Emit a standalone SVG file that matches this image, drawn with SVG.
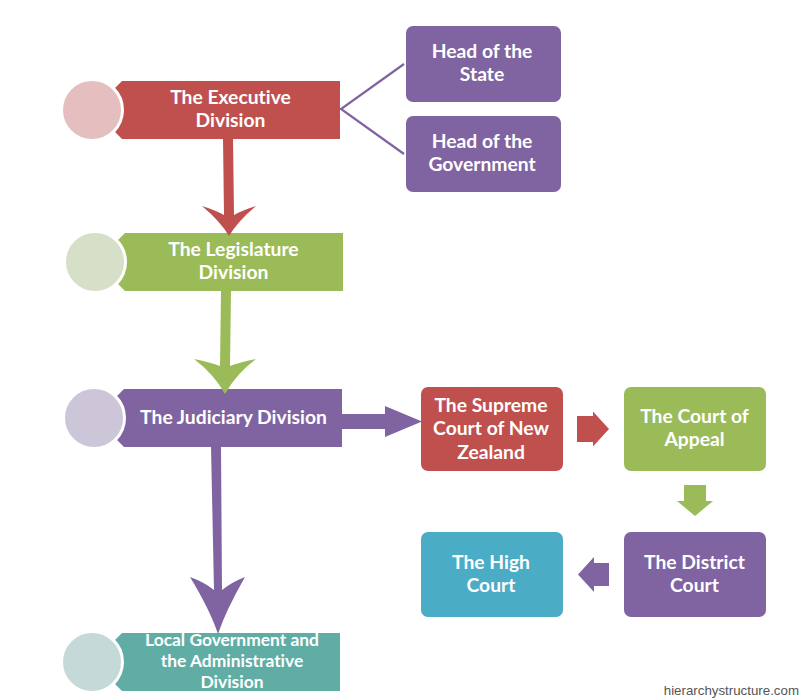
<svg xmlns="http://www.w3.org/2000/svg" width="800" height="700" viewBox="0 0 800 700">
<style>
text{font-family:Lato,"Open Sans",sans-serif;font-weight:700;font-size:19.3px;fill:#fff;text-anchor:middle;font-variant-ligatures:none}
.sm{font-size:17.4px}
.wm{font-family:"Liberation Sans",Arial,sans-serif;font-weight:400;font-size:13.3px;fill:#555;text-anchor:end}
.red{fill:#c0504d}.green{fill:#9bbb59}.purple{fill:#8064a2}.teal{fill:#5fada5}.blue{fill:#4bacc6}
circle{stroke:#fff;stroke-width:3}
</style>
<rect width="800" height="700" fill="#fff"/>
<g id="executive">
<path class="red" d="M122 81H340V139H122L115 132V88Z"/>
<circle cx="92" cy="110" r="30.500" fill="#e5bfc0"/>
<text x="230.500" y="103.500">The Executive</text><text x="230.500" y="126.500">Division</text>
</g>
<g id="legislature">
<path class="green" d="M125 233H343V291H125L118 284V240Z"/>
<circle cx="95" cy="262" r="30.500" fill="#d6e0c8"/>
<text x="233.500" y="255.500">The Legislature</text><text x="233.500" y="278.500">Division</text>
</g>
<g id="judiciary">
<path class="purple" d="M124 389H342V447H124L117 440V396Z"/>
<circle cx="94" cy="418" r="30.500" fill="#cdc6d9"/>
<text x="233.500" y="424">The Judiciary Division</text>
</g>
<g id="local">
<path class="teal" d="M122 633H340V691H122L115 684V640Z"/>
<circle cx="92" cy="662" r="30.500" fill="#c5dad8"/>
<text class="sm" x="232" y="646">Local Government and</text><text class="sm" x="232" y="667">the Administrative</text><text class="sm" x="232" y="688">Division</text>
</g>
<g id="head-state">
<rect class="purple" x="406" y="26" width="155" height="76" rx="7"/>
<text x="482" y="58">Head of the</text><text x="482" y="81">State</text>
</g>
<g id="head-government">
<rect class="purple" x="406" y="116" width="155" height="76" rx="7"/>
<text x="482" y="148">Head of the</text><text x="482" y="171">Government</text>
</g>
<g id="supreme">
<rect class="red" x="421" y="387" width="142" height="84" rx="7"/>
<text x="491" y="412">The Supreme</text><text x="491" y="435">Court of New</text><text x="491" y="459">Zealand</text>
</g>
<g id="appeal">
<rect class="green" x="624" y="387" width="142" height="84" rx="7"/>
<text x="694.500" y="423">The Court of</text><text x="694.500" y="446">Appeal</text>
</g>
<g id="district">
<rect class="purple" x="624" y="532" width="142" height="85" rx="7"/>
<text x="694.500" y="569">The District</text><text x="694.500" y="592">Court</text>
</g>
<g id="high">
<rect class="blue" x="421" y="532" width="142" height="85" rx="7"/>
<text x="491" y="569">The High</text><text x="491" y="592">Court</text>
</g>
<g id="connectors">
<path d="M404 64L341 109L404 154" fill="none" stroke="#8064a2" stroke-width="2.2"/>
<path class="red" d="M223 138L233 138L234 215Q243 210 256 206Q238 221 229 236Q220 221 202 206Q215 210 224 215Z"/>
<path class="green" d="M221 291L231 291L230 366Q241 362 256 359Q236 374 225 394Q214 374 194 359Q209 362 220 366Z"/>
<path class="purple" d="M211 447L221 447L222 590Q232 582 245 577Q226 610 218 634Q210 610 190 577Q204 582 214 590Z"/>
<path class="purple" d="M342 414H385V406L422 421.500L385 437V429H342Z"/>
<path class="red" d="M577 416H593V411.500L609 429L593 446.500V442H577Z"/>
<path class="green" d="M684 485H706V501H713L695 516L677 501H684Z"/>
<path class="purple" d="M609 563V586H594V592L578 574.500L594 557V563Z"/>
</g>
<text class="wm" x="799" y="695">hierarchystructure.com</text>
</svg>
